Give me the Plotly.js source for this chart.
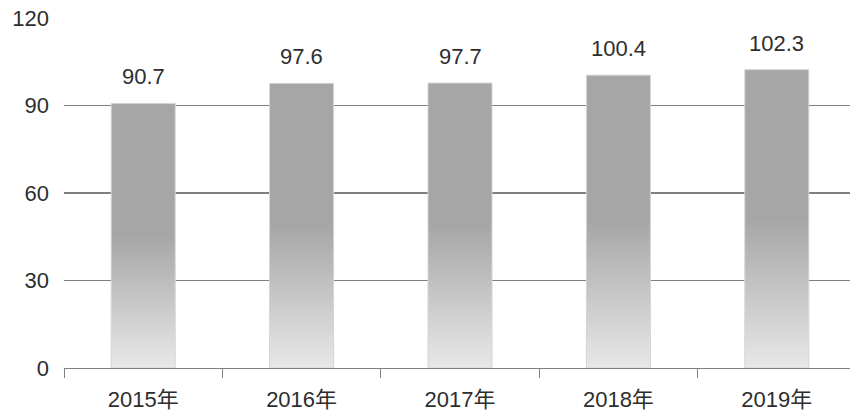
<!DOCTYPE html>
<html>
<head>
<meta charset="utf-8">
<script src="https://cdn.plot.ly/plotly-3.0.1.min.js"></script>
<style>
html,body{margin:0;padding:0;background:#fff;overflow:hidden;}
#chart{width:856px;height:415px;}
</style>
</head>
<body>
<div id="chart"></div>
<script>
var categories = ["2015年", "2016年", "2017年", "2018年", "2019年"];
var values = [90.7, 97.6, 97.7, 100.4, 102.3];
var valueLabels = ["90.7", "97.6", "97.7", "100.4", "102.3"];
var yTicks = [0, 30, 60, 90, 120];

var FONT = "Liberation Sans, Noto Sans CJK JP, sans-serif";
var TXT = "#2e2e2e";

var trace = {
  type: "bar",
  x: categories,
  y: values,
  width: 0.404,
  marker: {color: "#a6a6a6", line: {color: "#d4d4d4", width: 1}},
  hoverinfo: "none"
};

var annotations = categories.map(function(c, i){
  return {
    x: c, y: values[i], text: valueLabels[i], showarrow: false,
    xref: "x", yref: "y", yanchor: "bottom", yshift: 12,
    font: {family: FONT, size: 22, color: TXT}
  };
});

var layout = {
  width: 856, height: 415,
  margin: {l: 64, r: 0, t: 18, b: 47},
  paper_bgcolor: "#ffffff", plot_bgcolor: "#ffffff",
  showlegend: false,
  bargap: 0.6,
  xaxis: {
    type: "category",
    range: [-0.5, 4.5],
    tickson: "boundaries",
    ticks: "outside", ticklen: 9, tickwidth: 1, tickcolor: "#7f7f7f",
    showline: true, linecolor: "#7f7f7f", linewidth: 1.2,
    showgrid: false,
    tickfont: {family: FONT, size: 22, color: TXT},
    ticklabelstandoff: 11
  },
  yaxis: {
    range: [0, 120],
    tickvals: yTicks,
    ticktext: yTicks.map(String),
    showgrid: true, gridcolor: "#7f7f7f", gridwidth: 1.2,
    zeroline: false, showline: false, ticks: "",
    tickfont: {family: FONT, size: 22, color: TXT},
    ticklabelstandoff: 14
  },
  annotations: annotations
};

Plotly.newPlot("chart", [trace], layout, {staticPlot: true, displayModeBar: false}).then(function(gd){
  var svg = gd.querySelector("svg.main-svg");
  var ns = "http://www.w3.org/2000/svg";
  var defs = svg.querySelector("defs") || svg.insertBefore(document.createElementNS(ns, "defs"), svg.firstChild);
  var grad = document.createElementNS(ns, "linearGradient");
  grad.setAttribute("id", "barGrad");
  grad.setAttribute("x1", "0"); grad.setAttribute("y1", "1");
  grad.setAttribute("x2", "0"); grad.setAttribute("y2", "0");
  [["0", "#e8e8e8"], ["0.5", "#a6a6a6"], ["1", "#a6a6a6"]].forEach(function(s){
    var st = document.createElementNS(ns, "stop");
    st.setAttribute("offset", s[0]);
    st.setAttribute("stop-color", s[1]);
    grad.appendChild(st);
  });
  defs.appendChild(grad);
  gd.querySelectorAll(".bars path").forEach(function(p){
    p.style.fill = "url(#barGrad)";
  });
});
</script>
</body>
</html>
